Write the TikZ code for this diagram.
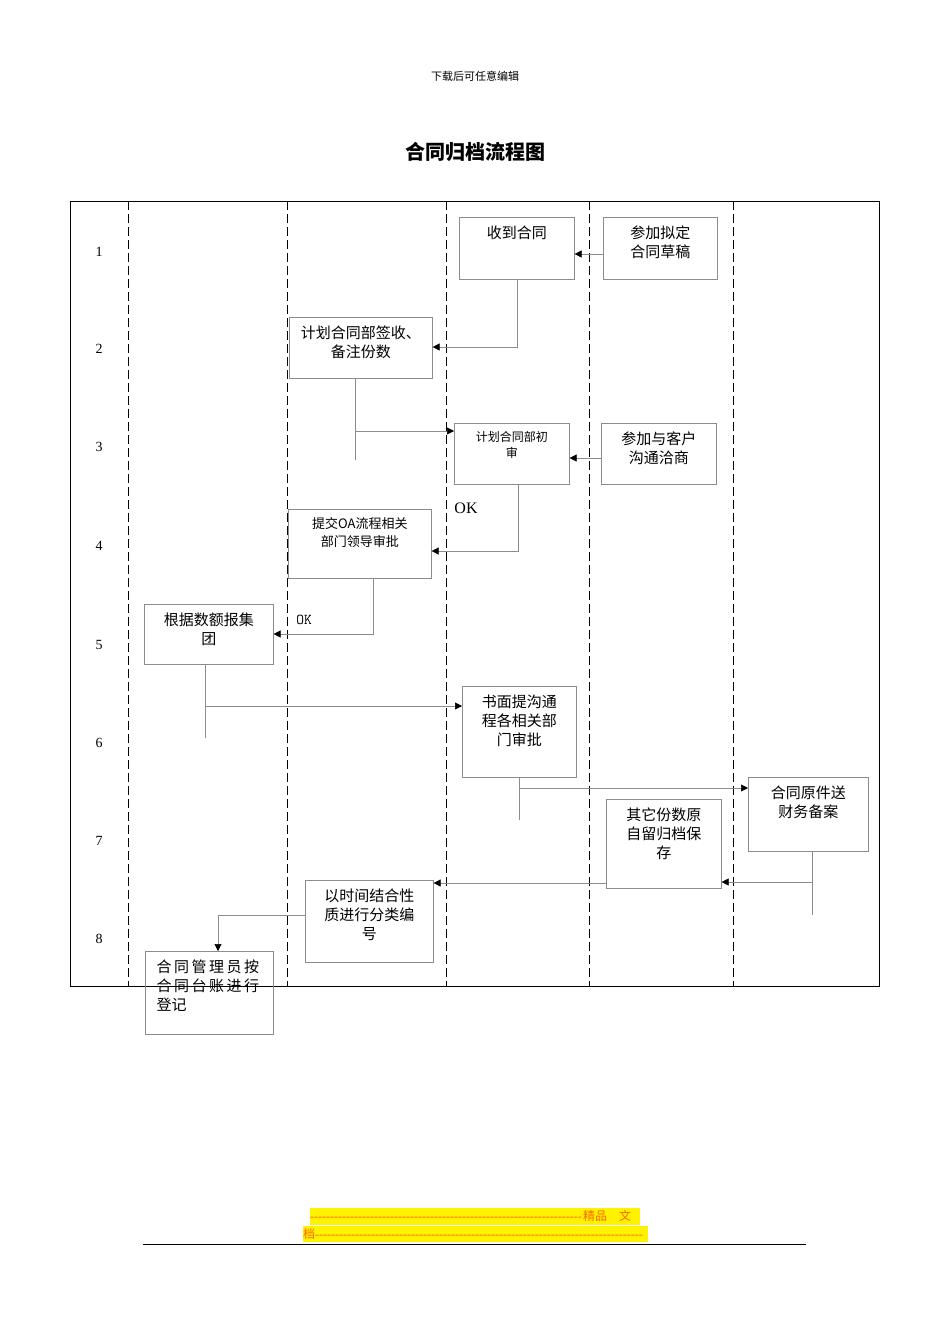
\documentclass[tikz,border=0pt]{standalone}
\usepackage{fontspec}
\setmainfont{Liberation Serif}
\newfontfamily\cjk{Noto Sans CJK SC}
\usetikzlibrary{arrows.meta}
\tikzset{
 bx/.style={draw=black!45,line width=0.6pt,inner sep=0pt},
 cn/.style={draw=black!45,line width=0.6pt},
 ar/.style={cn,-{Triangle[black,length=7pt,width=7pt]}},
 lane/.style={dashed,dash pattern=on 9pt off 4pt,line width=0.8pt},
 rn/.style={font=\fontsize{14}{16}\selectfont}
}
\newcommand{\bxx}[7]{%
 \node[bx,minimum width=#4-#2,minimum height=#5-#3,anchor=north west,
  label={[anchor=north,yshift=-5pt,align=center,text width=#7,font=\cjk\fontsize{15}{19}\selectfont]north:#6}] (#1) at (#2,-#3) {};}
\newcommand{\dashfill}[1]{\hbox to #1{\leaders\hbox{-}\hfill}}
\begin{document}
\begin{tikzpicture}[x=1pt,y=1pt]
\useasboundingbox (0,0) rectangle (950,-1344);
\node[font=\cjk\fontsize{11}{13}\selectfont] (hd) at (475,-76) {下载后可任意编辑};
\node[font=\cjk\bfseries\fontsize{20}{24}\selectfont] (tt) at (475,-152) {合同归档流程图};
\draw[line width=0.8pt] (70,-201) rectangle (879,-986);
\foreach \x in {128,287,446,589,733} \draw[lane] (\x,-201) -- (\x,-986);
\foreach \i/\y in {1/252,2/349,3/447,4/546,5/645,6/743,7/841,8/939}
  \node[rn] (r\i) at (99,-\y) {\i};
\bxx{a}{459}{217}{574}{279}{收到合同}{110pt}
\bxx{b}{603}{217}{717}{279}{参加拟定\\合同草稿}{110pt}
\bxx{c}{289}{317}{432}{378}{计划合同部签收、\\备注份数}{140pt}
\node[bx,minimum width=115,minimum height=61,anchor=north west,
  label={[anchor=north,yshift=-5pt,align=center,font=\cjk\fontsize{12}{16}\selectfont]north:计划合同部初\\审}] (d) at (454,-423) {};
\bxx{e}{601}{423}{716}{484}{参加与客户\\沟通洽商}{110pt}
\node[bx,minimum width=143,minimum height=69,anchor=north west,
  label={[anchor=north,yshift=-5pt,align=center,font=\cjk\fontsize{13}{18}\selectfont]north:提交OA流程相关\\部门领导审批}] (f) at (288,-509) {};
\bxx{g}{144}{604}{273}{664}{根据数额报集\\团}{125pt}
\bxx{h}{462}{686}{576}{777}{书面提沟通\\程各相关部\\门审批}{110pt}
\bxx{i}{748}{777}{868}{851}{合同原件送\\财务备案}{115pt}
\bxx{j}{606}{799}{721}{888}{其它份数原\\自留归档保\\存}{110pt}
\bxx{k}{305}{880}{433}{962}{以时间结合性\\质进行分类编\\号}{125pt}
\node[bx,minimum width=128,minimum height=83,anchor=north west,
  label={[anchor=north west,xshift=8pt,yshift=-5pt,align=left,font=\cjk\fontsize{15}{19}\selectfont]north west:合\,同\,管\,理\,员\,按\\合\,同\,台\,账\,进\,行\\登记}] (l) at (145,-951) {};
% connectors
\draw[ar] (b.west |- 0,-254) -- (a.east |- 0,-254);
\draw[ar] (517,-279) |- (c.east |- 0,-347);
\draw[cn] (355,-378) -- (355,-460);
\draw[ar] (355,-431) -- (d.west |- 0,-431);
\draw[ar] (e.west |- 0,-458) -- (d.east |- 0,-458);
\draw[ar] (518,-484) |- (f.east |- 0,-551);
\node[font=\fontsize{16}{18}\selectfont] (ok1) at (466,-508) {OK};
\draw[ar] (373,-578) |- (g.east |- 0,-634);
\node[font=\ttfamily\fontsize{15}{18}\selectfont] (ok2) at (304,-620) {OK};
\draw[cn] (205,-664) -- (205,-738);
\draw[ar] (205,-706) -- (h.west |- 0,-706);
\draw[cn] (519,-777) -- (519,-820);
\draw[ar] (519,-788) -- (i.west |- 0,-788);
\draw[cn] (812,-851) -- (812,-915);
\draw[ar] (812,-882) -- (j.east |- 0,-882);
\draw[ar] (j.west |- 0,-883) -- (k.east |- 0,-883);
\draw[ar] (k.west |- 0,-915) -| (l.north -| 218,0);
% footer
\fill[yellow] (310,-1208) rectangle (640,-1225);
\fill[yellow] (303,-1226) rectangle (648,-1242);
\node[anchor=west,inner sep=0pt,text=orange!80!red,font=\fontsize{12}{14}\selectfont] (f1) at (310,-1216) {\dashfill{273pt}{\cjk 精品\quad 文}};
\node[anchor=west,inner sep=0pt,text=orange!80!red,font=\fontsize{12}{14}\selectfont] (f2) at (303,-1234) {{\cjk 档}\dashfill{330pt}};
\draw[line width=1pt] (143,-1244) -- (806,-1244);
\end{tikzpicture}
\end{document}
